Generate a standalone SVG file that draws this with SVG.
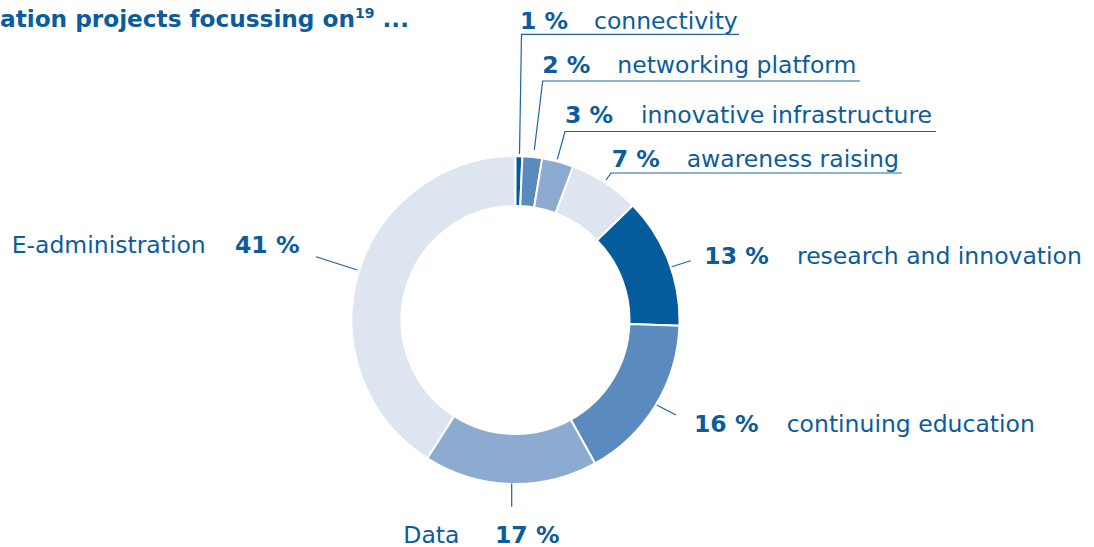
<svg xmlns="http://www.w3.org/2000/svg" width="1094" height="547" viewBox="0 0 1094 547">
<style>
text{font-family:"DejaVu Sans","Verdana",sans-serif;fill:#0b5c9c;font-size:23.5px}
.b{font-weight:bold}
.seg{stroke:#fff;stroke-width:2;stroke-linejoin:miter}
.c1{fill:#045c9c}.c2{fill:#5b8bbe}.c3{fill:#8daad0}.c4{fill:#dde5f1}
.ld{fill:none;stroke:#1d64a2;stroke-width:1.2}
</style>
<rect width="1094" height="547" fill="#fff"/>
<text class="b" x="0" y="27" style="font-size:23.2px">ation projects focussing on<tspan font-size="14" dy="-9">19</tspan><tspan dy="9"> ...</tspan></text>
<g id="donut">
<path id="s-eadmin" class="seg c4" d="M427.38,458.32 A164,164 0 0 1 515.5,156 L515.5,206 A114,114 0 0 0 454.25,416.15 Z"/>
<path id="s-connectivity" class="seg c1" d="M515.5,156 A164,164 0 0 1 522.37,156.14 L520.27,206.10 A114,114 0 0 0 515.5,206 Z"/>
<path id="s-networking" class="seg c2" d="M522.37,156.14 A164,164 0 0 1 542.29,158.20 L534.12,207.53 A114,114 0 0 0 520.27,206.10 Z"/>
<path id="s-infra" class="seg c3" d="M542.29,158.20 A164,164 0 0 1 573.20,166.49 L555.61,213.29 A114,114 0 0 0 534.12,207.53 Z"/>
<path id="s-awareness" class="seg c4" d="M573.20,166.49 A164,164 0 0 1 632.87,205.46 L597.09,240.38 A114,114 0 0 0 555.61,213.29 Z"/>
<path id="s-research" class="seg c1" d="M632.87,205.46 A164,164 0 0 1 679.40,325.72 L629.43,323.98 A114,114 0 0 0 597.09,240.38 Z"/>
<path id="s-education" class="seg c2" d="M679.40,325.72 A164,164 0 0 1 595.01,463.44 L570.77,419.71 A114,114 0 0 0 629.43,323.98 Z"/>
<path id="s-data" class="seg c3" d="M595.01,463.44 A164,164 0 0 1 427.38,458.32 L454.25,416.15 A114,114 0 0 0 570.77,419.71 Z"/>
</g>
<g id="connectors">
<polyline class="ld" points="519.5,154 521.5,34.3 739,34.3"/>
<polyline class="ld" points="534.3,150 542.7,81 860,81"/>
<polyline class="ld" points="557.3,159.3 565,131.5 936,131.5"/>
<polyline class="ld" points="606,180 611,173 901.7,173"/>
<line class="ld" x1="671.7" y1="266.7" x2="690.7" y2="260.7"/>
<line class="ld" x1="656.7" y1="405" x2="676" y2="415"/>
<line class="ld" x1="511.7" y1="483.5" x2="511.7" y2="506.7"/>
<line class="ld" x1="316" y1="256.7" x2="357.3" y2="270"/>
</g>
<g id="l-connectivity"><text class="b" x="520" y="28.5">1 %</text><text x="594" y="28.5">connectivity</text></g>
<g id="l-networking"><text class="b" x="542.3" y="72.7">2 %</text><text x="617.3" y="72.7">networking platform</text></g>
<g id="l-infra"><text class="b" x="565" y="123.3">3 %</text><text x="641" y="123.3">innovative infrastructure</text></g>
<g id="l-awareness"><text class="b" x="611.7" y="166.7">7 %</text><text x="686.7" y="166.7">awareness raising</text></g>
<g id="l-research"><text class="b" x="704.3" y="264.3">13 %</text><text x="797" y="264.3">research and innovation</text></g>
<g id="l-education"><text class="b" x="694" y="431.7">16 %</text><text x="786.7" y="431.7">continuing education</text></g>
<g id="l-data"><text x="403.3" y="542.7">Data</text><text class="b" x="495" y="542.7">17 %</text></g>
<g id="l-eadmin"><text x="11.7" y="253.3">E-administration</text><text class="b" x="235" y="253.3">41 %</text></g>
</svg>
